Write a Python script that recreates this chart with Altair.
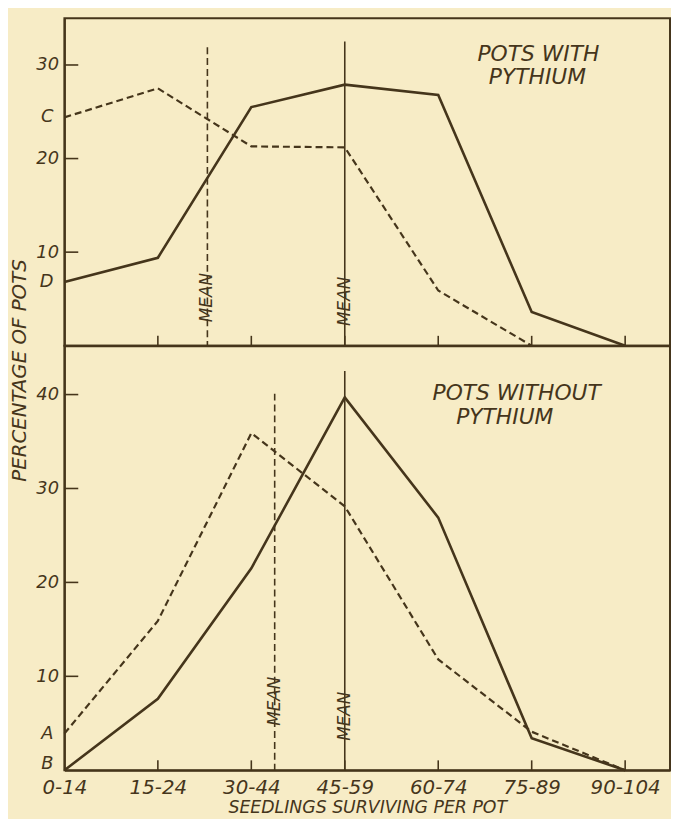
import json
import altair as alt
import pandas as pd

# ---------------- data ----------------
categories = ["0-14", "15-24", "30-44", "45-59", "60-74", "75-89", "90-104"]

with_solid = [6.8, 9.4, 25.5, 27.9, 26.8, 3.6, 0.0]
with_dashed = [24.4, 27.5, 21.3, 21.2, 5.9, 0.0, None]
without_solid = [0.0, 7.6, 21.5, 39.7, 26.9, 3.4, 0.0]
without_dashed = [3.9, 15.9, 35.9, 28.1, 11.8, 4.1, 0.0]

# mean positions (in class-interval units) and top of each mean line
with_mean_dashed = 1.53
with_mean_solid = 3.0
with_mean_tops = [31.9, 32.5]
without_mean_dashed = 2.25
without_mean_solid = 3.0
without_mean_tops = [40.1, 42.5]

with_yticks = [10, 20, 30]
without_yticks = [10, 20, 30, 40]
with_letters = ["C", "D"]       # dashed, solid
without_letters = ["A", "B"]    # dashed, solid

INK = "#45351b"
BG = "#f7ecc6"
FONT = "DejaVu Sans"
W = 612
XMAX = 6.48

label_expr = json.dumps(categories) + "[datum.value]"


def xenc(field, show_labels):
    if show_labels:
        axis = alt.Axis(values=list(range(len(categories))), labelExpr=label_expr,
                        ticks=False, grid=False, labelPadding=7, labelFontSize=20,
                        title="SEEDLINGS SURVIVING PER POT", titleFontSize=17.5,
                        titlePadding=2, titleFontWeight="normal", titleFontStyle="italic",
                        titleColor=INK, titleFont=FONT, labelFlush=False)
    else:
        axis = alt.Axis(labels=False, ticks=False, grid=False, title=None)
    return alt.X(field, type="quantitative", scale=alt.Scale(domain=[0, XMAX], nice=False),
                 axis=axis)


def yenc(field, ymax, ticks):
    return alt.Y(field, type="quantitative",
                 scale=alt.Scale(domain=[0, ymax], nice=False, zero=True),
                 axis=alt.Axis(values=ticks, ticks=False, grid=False, labelPadding=6,
                               labelFontSize=18, title=None))


def panel(solid, dashed, mean_d, mean_s, mean_tops, ymax, height, yticks, letters,
          title1, title2, title_pos, mean_lbl_y, show_x):
    solid_df = pd.DataFrame({"x": list(range(len(categories))), "y": solid})
    dashed_df = pd.DataFrame({"x": list(range(len(categories))), "y": dashed}).dropna()

    solid_line = alt.Chart(solid_df).mark_line(color=INK, strokeWidth=2.6).encode(
        x=xenc("x", show_x), y=yenc("y", ymax, yticks))
    dashed_line = alt.Chart(dashed_df).mark_line(color=INK, strokeWidth=2.2,
                                                 strokeDash=[7, 4]).encode(
        x=xenc("x", show_x), y=yenc("y", ymax, yticks))

    mean_df = pd.DataFrame({"x": [mean_d, mean_s], "top": mean_tops, "bot": [0, 0],
                            "kind": ["dashed", "solid"], "ly": mean_lbl_y})
    mean_dash = alt.Chart(mean_df[mean_df.kind == "dashed"]).mark_rule(
        color=INK, strokeWidth=1.6, strokeDash=[7, 4]).encode(
        x=xenc("x", show_x), y=yenc("top", ymax, yticks), y2="bot")
    mean_sol = alt.Chart(mean_df[mean_df.kind == "solid"]).mark_rule(
        color=INK, strokeWidth=1.6).encode(
        x=xenc("x", show_x), y=yenc("top", ymax, yticks), y2="bot")

    mean_text = alt.Chart(mean_df).mark_text(
        angle=270, color=INK, font=FONT, fontStyle="italic", fontSize=17,
        align="center", baseline="middle", dx=-9).encode(
        x=xenc("x", show_x), y=yenc("ly", ymax, yticks), text=alt.value("MEAN"))

    ytick_df = pd.DataFrame({"y": yticks})
    ytick_rules = alt.Chart(ytick_df).mark_rule(color=INK, strokeWidth=1.6).encode(
        x=alt.value(0), x2=alt.value(14), y=yenc("y", ymax, yticks))

    xtick_df = pd.DataFrame({"x": list(range(1, len(categories)))})
    xtick_rules = alt.Chart(xtick_df).mark_rule(color=INK, strokeWidth=1.6).encode(
        x=xenc("x", show_x), y=alt.value(height), y2=alt.value(height - 10))

    # letters marking where each curve starts (lifted a little when on the axis)
    letter_layers = []
    for val, letter in zip([dashed[0], solid[0]], letters):
        letter_layers.append(
            alt.Chart(pd.DataFrame({"y": [val], "t": [letter]})).mark_text(
                color=INK, font=FONT, fontStyle="italic", fontSize=18, align="right",
                baseline="middle", dx=-11, dy=-6 if val < 1 else 0).encode(
                x=alt.value(0), y=yenc("y", ymax, yticks), text="t:N"))

    t1 = alt.Chart(pd.DataFrame({"t": [title1]})).mark_text(
        color=INK, font=FONT, fontStyle="italic", fontSize=22, align="center",
        baseline="middle").encode(x=alt.value(title_pos[0]), y=alt.value(title_pos[1]),
                                  text="t:N")
    t2 = alt.Chart(pd.DataFrame({"t": [title2]})).mark_text(
        color=INK, font=FONT, fontStyle="italic", fontSize=22, align="center",
        baseline="middle").encode(x=alt.value(title_pos[2]), y=alt.value(title_pos[3]),
                                  text="t:N")

    layers = [solid_line, dashed_line, mean_dash, mean_sol, mean_text, ytick_rules,
              xtick_rules] + letter_layers + [t1, t2]
    return alt.layer(*layers).properties(width=W, height=height)


top = panel(with_solid, with_dashed, with_mean_dashed, with_mean_solid, with_mean_tops,
            35.0, 331, with_yticks, with_letters, "POTS WITH", "PYTHIUM",
            (479, 36, 478, 60), [6.1, 5.7], False)

ytitle = alt.Chart(pd.DataFrame({"t": ["PERCENTAGE OF POTS"]})).mark_text(
    angle=270, color=INK, font=FONT, fontStyle="italic", fontSize=20,
    align="center", baseline="middle").encode(
    x=alt.value(-45), y=alt.value(25), text="t:N")

bottom = panel(without_solid, without_dashed, without_mean_dashed, without_mean_solid,
               without_mean_tops, 45.2, 429, without_yticks, without_letters,
               "POTS WITHOUT", "PYTHIUM", (457, 48, 445, 72), [8.3, 6.7], True)
bottom = alt.layer(bottom, ytitle)

chart = alt.vconcat(top, bottom, spacing=0, bounds="flush").properties(
    background=BG,
    padding={"left": 0, "top": 5, "right": 0, "bottom": 0},
).configure_view(
    stroke=INK, strokeWidth=2
).configure_axis(
    domainColor=INK, domainWidth=2, labelColor=INK, labelFont=FONT,
    labelFontStyle="italic"
)

chart.save("out.html", embed_options={"renderer": "svg", "actions": False})
